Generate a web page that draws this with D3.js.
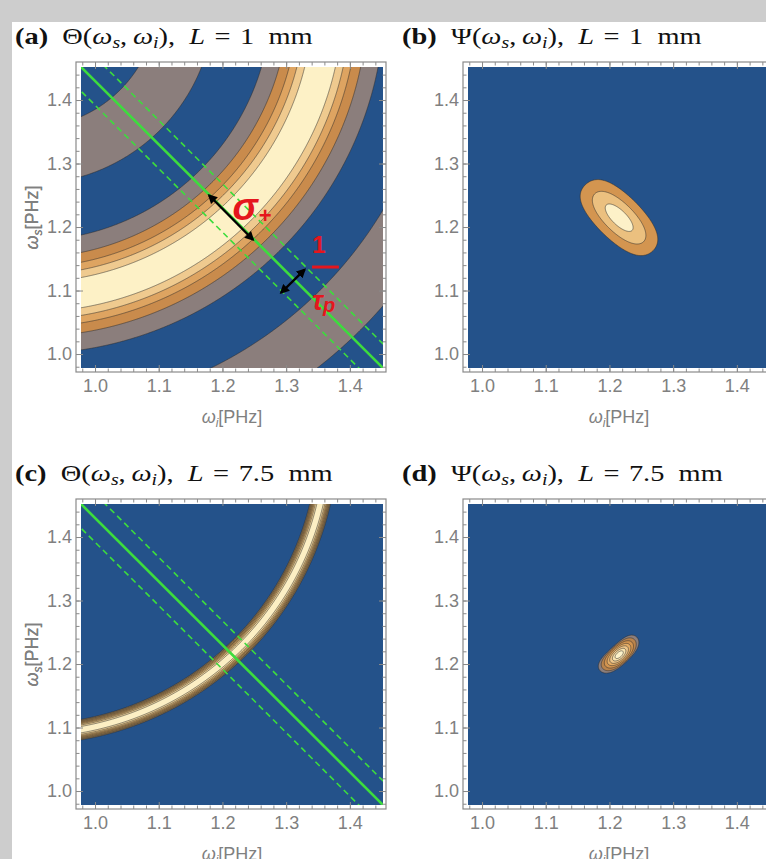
<!DOCTYPE html>
<html>
<head>
<meta charset="utf-8">
<script src="https://cdn.jsdelivr.net/npm/d3@7"></script>
<style>
  body { margin: 0; background: #cdcdcd; }
  svg { display: block; }
</style>
</head>
<body>
<svg id="fig" width="766" height="859"></svg>
<script>
// ---- data ----
const omegaRange = [0.978, 1.452];          // PHz, both axes
const majorTicks = [1.0, 1.1, 1.2, 1.3, 1.4];
const minorTicks = d3.range(49, 73).map(k => k * 0.02);

// phase-matching ring Θ: sinc across a circle in the (ω_i, ω_s) plane
const ringCenter = [0.896, 1.559];
const ringRadius = 0.4696;
const crystalLengths = [1, 7.5];            // mm
const nullSpacing = [0.089, 0.018];         // distance between sinc zeros for each L

// pump envelope along ω_s + ω_i
const pumpCentre = 2.43;
const pumpSigma = 0.0274;
const pumpBand = 0.038;                     // dashed lines, ±1/τp

// contour levels of each panel
const levelsA = [0, 0.37, 0.6, 0.76, 0.89];
const levelsB = [0.19, 0.5, 0.84];
const levelsC = [0.13, 0.25, 0.38, 0.5, 0.62, 0.75, 0.88];
const levelsD = [0.13, 0.22, 0.35, 0.5, 0.65, 0.8, 0.92];

// annotation positions in panel (a), [ω_i, ω_s]
const sigmaArrow = [[1.179, 1.250], [1.248, 1.180]];
const tauArrow = [[1.292, 1.0965], [1.329, 1.133]];

// ---- colours ----
const blue = "#24528a";
const coloursA = [blue, "#8b7e7c", "#c98b4c", "#dea461", "#efca8f", "#fdf1c6"];
const coloursB = [blue, "#d39550", "#ebc07f", "#fdf1c8"];
const coloursC = [blue, "#8a7150", "#a5824e", "#bf9254", "#d4a662", "#e3bc7b", "#f0d49b", "#fcefc4"];
const coloursD = [blue, "#8b7e7c", "#b9834c", "#d29450", "#e3ac66", "#eec68a", "#f8e2ae", "#fdf3ca"];
const green = "#3ddc3d";
const red = "#e5161d";

const svg = d3.select("#fig");
svg.append("rect").attr("x", 12).attr("y", 22).attr("width", 760).attr("height", 850).attr("fill", "#fff");

const defs = svg.append("defs");
defs.append("marker").attr("id", "head")
  .attr("viewBox", "0 0 10 10").attr("refX", 8).attr("refY", 5)
  .attr("markerWidth", 4).attr("markerHeight", 4)
  .attr("orient", "auto-start-reverse")
  .append("path").attr("d", "M0,0 L10,5 L0,10 z").attr("fill", "#000");

function theta(wi, ws, k) {
  const u = Math.hypot(wi - ringCenter[0], ws - ringCenter[1]) - ringRadius;
  const x = Math.PI * u / nullSpacing[k];
  return Math.abs(x) < 1e-9 ? 1 : Math.sin(x) / x;
}
function psi(wi, ws, k) {
  const s = wi + ws - pumpCentre;
  return theta(wi, ws, k) * Math.exp(-s * s / (2 * pumpSigma * pumpSigma));
}

const panels = [
  { key: "a", sym: "Θ", k: 0, field: theta, levels: levelsA, colours: coloursA, left: 81, top: 67, tx: 15, ty: 44, tw: 298, lines: true },
  { key: "b", sym: "Ψ", k: 0, field: psi, levels: levelsB, colours: coloursB, left: 468, top: 67, tx: 402, ty: 44, tw: 300 },
  { key: "c", sym: "Θ", k: 1, field: theta, levels: levelsC, colours: coloursC, left: 81, top: 504, tx: 15, ty: 481, tw: 318, lines: true },
  { key: "d", sym: "Ψ", k: 1, field: psi, levels: levelsD, colours: coloursD, left: 468, top: 504, tx: 402, ty: 481, tw: 321 }
];
const plotW = 302, plotH = 301;
const pad = { l: 5, r: 3, t: 5, b: 4 };

panels.forEach(p => {
  const x = d3.scaleLinear().domain(omegaRange).range([p.left, p.left + plotW]);
  const y = d3.scaleLinear().domain(omegaRange).range([p.top + plotH, p.top]);
  const g = svg.append("g");

  // title (stretched sideways to the width of the original LaTeX title)
  const t = g.append("text").attr("x", p.tx).attr("y", p.ty)
    .attr("font-family", "'Liberation Serif', 'Times New Roman', serif")
    .attr("font-size", 23).attr("fill", "#111");
  t.append("tspan").attr("font-weight", "bold").text(`(${p.key})`);
  t.append("tspan").text(`\u2002${p.sym}(`);
  t.append("tspan").attr("font-style", "italic").text("ω");
  t.append("tspan").attr("font-style", "italic").attr("font-size", 16).attr("dy", 4).text("s");
  t.append("tspan").attr("dy", -4).text(",\u2009");
  t.append("tspan").attr("font-style", "italic").text("ω");
  t.append("tspan").attr("font-style", "italic").attr("font-size", 16).attr("dy", 4).text("i");
  t.append("tspan").attr("dy", -4).text("),\u2002");
  t.append("tspan").attr("font-style", "italic").text("L");
  t.append("tspan").text(`\u2004=\u2004${crystalLengths[p.k]}\u2002mm`);
  const tw = t.node().getBBox().width;
  t.attr("transform", `translate(${p.tx},0) scale(${p.tw / tw},1) translate(${-p.tx},0)`);

  // field on a grid, slightly larger than the plot range
  const n = 420, lo = omegaRange[0] - 0.01, hi = omegaRange[1] + 0.01, step = (hi - lo) / n;
  const values = new Float64Array(n * n);
  for (let j = 0; j < n; j++) {
    for (let i = 0; i < n; i++) {
      values[j * n + i] = p.field(lo + (i + 0.5) * step, hi - (j + 0.5) * step, p.k);
    }
  }
  const bands = d3.contours().size([n, n]).thresholds(p.levels)(values);
  const path = d3.geoPath(d3.geoTransform({
    point(gx, gy) { this.stream.point(x(lo + gx * step), y(hi - gy * step)); }
  }));

  const clipId = "clip-" + p.key;
  defs.append("clipPath").attr("id", clipId).append("rect")
    .attr("x", p.left).attr("y", p.top).attr("width", plotW).attr("height", plotH);
  const plot = g.append("g").attr("clip-path", `url(#${clipId})`);
  plot.append("rect").attr("x", p.left).attr("y", p.top).attr("width", plotW).attr("height", plotH)
    .attr("fill", p.colours[0]);
  plot.selectAll("path.band").data(bands).join("path").attr("class", "band")
    .attr("d", path)
    .attr("fill", (d, i) => p.colours[i + 1])
    .attr("stroke", "#2a2a2a").attr("stroke-width", 0.7).attr("stroke-opacity", 0.75);

  // pump lines ω_s + ω_i = const
  if (p.lines) {
    const line = d3.line().x(d => x(d[0])).y(d => y(d[1]));
    [-pumpBand, 0, pumpBand].forEach(off => {
      const c = pumpCentre + off;
      plot.append("path")
        .attr("d", line([[lo, c - lo], [c - lo, lo]]))
        .attr("fill", "none").attr("stroke", green)
        .attr("stroke-width", off === 0 ? 2.6 : 1.6)
        .attr("stroke-dasharray", off === 0 ? null : "6,4");
    });
  }

  // frame with inward ticks on all sides
  const fx0 = p.left - pad.l, fx1 = p.left + plotW + pad.r;
  const fy0 = p.top - pad.t, fy1 = p.top + plotH + pad.b;
  const fmt = d3.format(".1f");
  const axes = [
    { ax: d3.axisBottom(x), tr: `translate(0,${fy1})`, lab: true, isX: true },
    { ax: d3.axisTop(x), tr: `translate(0,${fy0})`, lab: false, isX: true },
    { ax: d3.axisLeft(y), tr: `translate(${fx0},0)`, lab: true, isX: false },
    { ax: d3.axisRight(y), tr: `translate(${fx1},0)`, lab: false, isX: false }
  ];
  axes.forEach(a => {
    g.append("g").attr("transform", a.tr)
      .call(a.ax.tickValues(minorTicks).tickSizeInner(-3.5).tickSizeOuter(0).tickFormat(""))
      .call(s => s.select(".domain").remove())
      .call(s => s.selectAll("line").attr("stroke", "#8a8a8a"));
    g.append("g").attr("transform", a.tr)
      .call(a.ax.tickValues(majorTicks).tickSizeInner(-7).tickSizeOuter(0)
        .tickPadding(a.isX ? 7 : 4).tickFormat(a.lab ? fmt : ""))
      .call(s => s.select(".domain").remove())
      .call(s => s.selectAll("line").attr("stroke", "#8a8a8a"))
      .call(s => s.selectAll("text").attr("font-family", "'Liberation Sans', Arial, sans-serif")
        .attr("font-size", 18).attr("fill", "#808080"));
  });
  g.append("rect").attr("x", fx0).attr("y", fy0).attr("width", fx1 - fx0).attr("height", fy1 - fy0)
    .attr("fill", "none").attr("stroke", "#8a8a8a").attr("stroke-width", 1.2);

  // axis titles
  const axisFont = "'Liberation Sans', Arial, sans-serif";
  const xt = g.append("text").attr("x", p.left + plotW / 2).attr("y", p.top + 356)
    .attr("text-anchor", "middle").attr("font-family", axisFont).attr("font-size", 18).attr("fill", "#808080");
  xt.append("tspan").attr("font-style", "italic").text("ω");
  xt.append("tspan").attr("font-style", "italic").attr("font-size", 12).attr("dy", 4).text("i");
  xt.append("tspan").attr("dy", -4).text("[PHz]");
  const yt = g.append("text")
    .attr("transform", `translate(38,${p.top + plotH / 2}) rotate(-90)`)
    .attr("text-anchor", "middle").attr("font-family", axisFont).attr("font-size", 18).attr("fill", "#808080");
  yt.append("tspan").attr("font-style", "italic").text("ω");
  yt.append("tspan").attr("font-style", "italic").attr("font-size", 12).attr("dy", 4).text("s");
  yt.append("tspan").attr("dy", -4).text("[PHz]");

  // annotations of panel (a)
  if (p.key === "a") {
    const ann = g.append("g");
    [sigmaArrow, tauArrow].forEach(ar => {
      ann.append("line")
        .attr("x1", x(ar[0][0])).attr("y1", y(ar[0][1]))
        .attr("x2", x(ar[1][0])).attr("y2", y(ar[1][1]))
        .attr("stroke", "#000").attr("stroke-width", 2.4)
        .attr("marker-start", "url(#head)").attr("marker-end", "url(#head)");
    });
    const redFont = "'Liberation Sans', Arial, sans-serif";
    ann.append("text").attr("x", x(1.2156)).attr("y", y(1.211))
      .attr("font-family", redFont).attr("font-size", 38).attr("font-weight", "bold")
      .attr("font-style", "italic").attr("fill", red).text("σ");
    ann.append("text").attr("x", x(1.257)).attr("y", y(1.207))
      .attr("font-family", redFont).attr("font-size", 22).attr("font-weight", "bold").attr("fill", red).text("+");
    ann.append("text").attr("x", x(1.3516)).attr("y", y(1.159)).attr("text-anchor", "middle")
      .attr("font-family", redFont).attr("font-size", 24).attr("font-weight", "bold").attr("fill", red).text("1");
    ann.append("line").attr("x1", x(1.3406)).attr("x2", x(1.3828)).attr("y1", y(1.137)).attr("y2", y(1.137))
      .attr("stroke", red).attr("stroke-width", 3);
    const tau = ann.append("text").attr("x", x(1.3406)).attr("y", y(1.0693))
      .attr("font-family", redFont).attr("font-weight", "bold").attr("font-style", "italic").attr("fill", red);
    tau.append("tspan").attr("font-size", 27).text("τ");
    tau.append("tspan").attr("font-size", 20).attr("dy", 2).text("p");
  }
});
</script>
</body>
</html>
